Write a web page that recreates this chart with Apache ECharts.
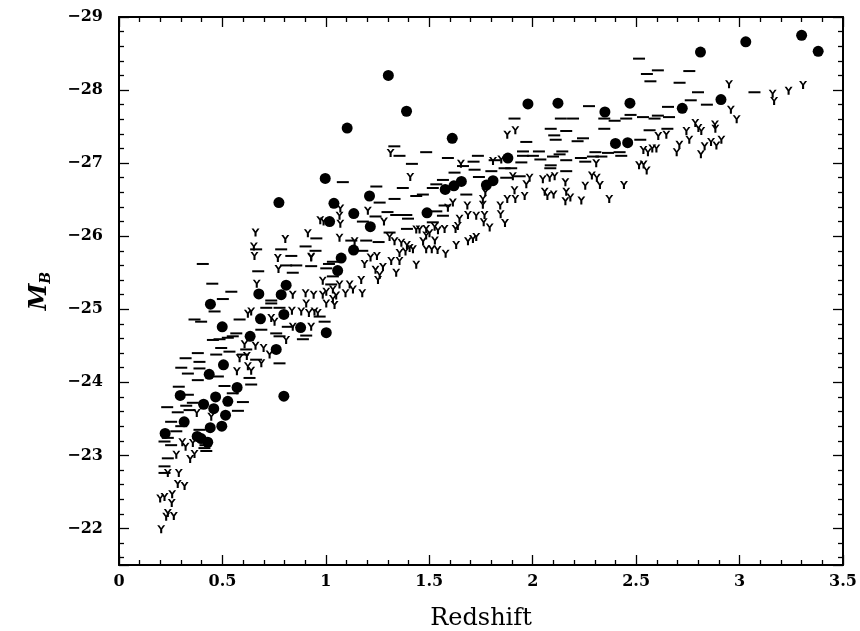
<!DOCTYPE html>
<html>
<head>
<meta charset="utf-8">
<script src="https://cdn.jsdelivr.net/npm/echarts@6/dist/echarts.min.js"></script>
<style>
  html, body { margin: 0; padding: 0; background: #fff; }
  #chart { width: 860px; height: 631px; }
</style>
</head>
<body>
<div id="chart"></div>
<script>
// [redshift, M_B]
const circles = [
  [0.223,-23.30],[0.296,-23.82],[0.315,-23.46],[0.378,-23.26],[0.397,-23.23],[0.409,-23.70],
  [0.429,-23.18],[0.436,-24.11],[0.441,-23.38],[0.442,-25.07],[0.458,-23.64],[0.467,-23.80],
  [0.497,-23.40],[0.499,-24.76],[0.505,-24.24],[0.515,-23.55],[0.526,-23.74],[0.571,-23.93],
  [0.634,-24.63],[0.676,-25.21],[0.684,-24.87],[0.760,-24.45],[0.773,-26.46],[0.784,-25.20],
  [0.797,-24.93],[0.797,-23.81],[0.808,-25.33],[0.878,-24.75],[0.997,-26.79],[1.002,-24.68],
  [1.018,-26.20],[1.039,-26.45],[1.057,-25.53],[1.074,-25.70],[1.103,-27.48],[1.134,-25.81],
  [1.135,-26.31],[1.211,-26.55],[1.215,-26.13],[1.302,-28.20],[1.390,-27.71],[1.489,-26.32],
  [1.577,-26.64],[1.611,-27.34],[1.619,-26.69],[1.655,-26.75],[1.776,-26.70],[1.808,-26.76],
  [1.880,-27.07],[1.977,-27.81],[2.122,-27.82],[2.349,-27.70],[2.400,-27.27],[2.459,-27.28],
  [2.470,-27.82],[2.723,-27.75],[2.811,-28.52],[2.910,-27.87],[3.030,-28.66],[3.300,-28.75],
  [3.380,-28.53]
];

const dashes = [
  [2.514,-28.43],[2.552,-28.22],[2.605,-28.27],[2.569,-28.12],[2.757,-28.26],[2.710,-28.10],
  [2.799,-27.97],[2.764,-27.86],[2.842,-27.80],[2.654,-27.77],[3.072,-27.97],[2.346,-27.61],
  [2.396,-27.58],[2.452,-27.61],[2.473,-27.66],[2.533,-27.63],[2.589,-27.61],[2.605,-27.65],
  [2.659,-27.63],[2.346,-27.47],[2.565,-27.45],[2.651,-27.47],[2.520,-27.32],[2.364,-27.14],
  [2.420,-27.15],[2.428,-27.10],[2.332,-27.09],
  [2.272,-27.78],[1.912,-27.61],[2.136,-27.61],[2.195,-27.61],[2.087,-27.47],[2.162,-27.44],
  [2.104,-27.38],[2.111,-27.32],[2.243,-27.34],[2.217,-27.30],[1.969,-27.29],[1.485,-27.15],
  [1.590,-27.07],[1.735,-27.10],[1.714,-27.02],[1.816,-27.04],[1.953,-27.16],[2.030,-27.16],
  [2.143,-27.16],[2.130,-27.12],[2.098,-27.09],[2.001,-27.10],[1.953,-27.10],[2.037,-27.05],
  [2.162,-27.04],[2.233,-27.07],[2.254,-27.02],[2.303,-27.15],[2.291,-27.09],
  [1.945,-27.01],[2.087,-26.97],[2.085,-26.93],[2.162,-26.89],[1.896,-26.93],[1.864,-26.93],
  [1.800,-26.89],[1.719,-26.91],[1.663,-26.96],[1.622,-26.87],[1.740,-26.81],[1.566,-26.77],
  [1.534,-26.71],[1.679,-26.57],[1.469,-26.57],[1.574,-26.42],[1.566,-26.28],[1.937,-26.82],
  [1.872,-26.80],[1.331,-27.23],[1.356,-27.10],[1.416,-26.99],
  [1.082,-26.74],[1.244,-26.68],[1.372,-26.66],[1.517,-26.66],[1.437,-26.55],[1.260,-26.46],
  [1.332,-26.51],[1.298,-26.33],[1.340,-26.29],[1.397,-26.24],[1.389,-26.29],[1.240,-26.27],
  [1.179,-26.20],[1.534,-26.34],[1.517,-26.19],[1.392,-26.10],[1.308,-26.05],[1.195,-25.94],
  [1.255,-25.92],[0.954,-25.97],[0.902,-25.86],[0.950,-25.80],[1.176,-25.80],[0.929,-25.59],
  [1.015,-25.62],[1.034,-25.65],[1.002,-25.56],[1.034,-25.45],[1.026,-25.34],[0.970,-24.90],
  [0.405,-25.62],[0.673,-25.52],[0.784,-25.82],[0.833,-25.73],[0.857,-25.60],[0.808,-25.60],
  [0.451,-25.35],[0.543,-25.24],[0.502,-25.14],[0.736,-25.12],[0.736,-25.08],[0.462,-24.97],
  [0.712,-25.02],[0.776,-25.02],[0.583,-24.86],[0.365,-24.86],[0.397,-24.83],[0.454,-24.58],
  [0.486,-24.59],[0.526,-24.61],[0.550,-24.63],[0.567,-24.67],[0.688,-24.72],[0.760,-24.67],
  [0.776,-24.63],[0.889,-24.59],[0.905,-24.64],[0.994,-24.83],[0.816,-24.76],[0.494,-24.47],
  [0.534,-24.42],[0.599,-24.38],[0.615,-24.45],[0.322,-24.33],[0.381,-24.40],[0.389,-24.28],
  [0.470,-24.38],[0.663,-24.31],[0.776,-24.26],[0.301,-24.20],[0.389,-24.19],[0.333,-24.12],
  [0.478,-24.08],[0.381,-24.03],[0.289,-23.94],[0.510,-23.95],[0.639,-23.97],[0.631,-24.06],
  [0.663,-25.82],[0.840,-25.50],[1.123,-25.94],
  [0.233,-23.66],[0.325,-23.68],[0.341,-23.62],[0.252,-23.46],[0.277,-23.33],[0.389,-23.35],
  [0.422,-23.06],[0.413,-23.10],[0.252,-23.14],[0.220,-23.19],[0.236,-22.96],[0.220,-22.85],
  [0.220,-22.76],[0.599,-23.73],[0.575,-23.61],[0.357,-23.72],[0.284,-23.59],[0.301,-23.40],
  [0.418,-23.14],[0.236,-23.24],[0.333,-23.83],[0.550,-23.85]
];

// upper limits (Y-shaped markers)
const limits = [
  [2.949,-28.08],[3.160,-27.95],[3.167,-27.85],[3.237,-27.99],[3.307,-28.07],[2.958,-27.73],
  [2.986,-27.60],[2.786,-27.55],[2.881,-27.53],[2.883,-27.47],[2.801,-27.48],[2.815,-27.44],
  [2.743,-27.44],[2.646,-27.39],[2.607,-27.37],[2.757,-27.32],[2.912,-27.32],[2.862,-27.29],
  [2.709,-27.25],[2.888,-27.24],[2.831,-27.23],[2.535,-27.18],[2.557,-27.15],[2.578,-27.20],
  [2.598,-27.20],[2.696,-27.15],[2.813,-27.12],[2.514,-26.97],[2.536,-26.98],[2.551,-26.90],
  [2.441,-26.70],[2.370,-26.51],[2.325,-26.70],
  [1.877,-27.39],[1.916,-27.45],[1.653,-26.99],[1.808,-27.03],[1.848,-27.05],[2.307,-27.00],
  [1.904,-26.82],[1.985,-26.80],[2.049,-26.78],[2.082,-26.80],[2.106,-26.82],[2.158,-26.74],
  [2.286,-26.83],[2.310,-26.80],[2.254,-26.69],[1.969,-26.71],[1.912,-26.63],[2.058,-26.61],
  [2.071,-26.55],[2.101,-26.57],[2.162,-26.61],[2.182,-26.53],[2.158,-26.48],[2.235,-26.49],
  [1.961,-26.55],[1.877,-26.51],[1.916,-26.51],[1.771,-26.60],[1.759,-26.51],[1.759,-26.43],
  [1.614,-26.46],[1.590,-26.39],[1.684,-26.42],[1.843,-26.42],[1.687,-26.29],[1.727,-26.28],
  [1.767,-26.29],[1.845,-26.30],[1.646,-26.24],[1.763,-26.19],[1.792,-26.12],[1.866,-26.18],
  [1.638,-26.14],[1.627,-26.10],[1.526,-26.13],[1.574,-26.10],[1.542,-26.08],[1.485,-26.10],
  [1.501,-26.04],[1.630,-25.88],[1.687,-25.93],[1.711,-25.96],[1.727,-25.99],[1.485,-26.01],
  [1.470,-25.93],[1.485,-25.82],[1.512,-25.82],[1.540,-25.81],[1.579,-25.76],
  [1.313,-27.14],[0.660,-26.05],[0.804,-25.96],[0.913,-26.04],[0.652,-25.86],
  [1.408,-26.81],[1.070,-26.38],[1.066,-26.28],[1.070,-26.17],[0.973,-26.22],[0.989,-26.20],
  [1.203,-26.35],[1.281,-26.20],[1.066,-25.98],[1.139,-25.93],[0.929,-25.71],[1.308,-25.99],
  [1.332,-25.93],[1.365,-25.91],[1.392,-25.88],[1.437,-26.09],[1.453,-26.09],[1.527,-25.94],
  [1.356,-25.77],[1.316,-25.66],[1.356,-25.66],[1.340,-25.50],[1.437,-25.61],[1.405,-25.84],
  [1.421,-25.82],[1.385,-25.79],[1.247,-25.73],[1.216,-25.71],[1.187,-25.62],[1.240,-25.54],
  [1.276,-25.58],[1.260,-25.47],[1.252,-25.40],[1.171,-25.40],[0.985,-25.39],[1.066,-25.34],
  [1.115,-25.34],[1.131,-25.27],[1.176,-25.22],[1.095,-25.22],[1.034,-25.27],[1.002,-25.24],
  [0.985,-25.20],[1.050,-25.19],[0.902,-25.22],[0.941,-25.20],[0.905,-25.08],[1.002,-25.08],
  [1.034,-25.14],[1.042,-25.06],[0.945,-24.97],[0.918,-24.95],[0.961,-24.95],[0.881,-24.97],
  [0.655,-25.73],[0.768,-25.70],[0.929,-25.72],[0.771,-25.55],[0.666,-25.35],[0.840,-25.20],
  [0.836,-24.98],[0.623,-24.94],[0.639,-24.97],[0.736,-24.88],[0.752,-24.83],[0.840,-24.76],
  [0.929,-24.76],[0.808,-24.58],[0.607,-24.52],[0.660,-24.50],[0.699,-24.47],[0.728,-24.38],
  [0.583,-24.33],[0.618,-24.36],[0.688,-24.26],[0.623,-24.22],[0.570,-24.15],[0.639,-24.16],
  [0.376,-23.58],[0.446,-23.53],[0.306,-23.18],[0.322,-23.12],[0.357,-23.17],[0.277,-23.01],
  [0.365,-23.02],[0.344,-22.95],[0.236,-22.76],[0.289,-22.76],[0.284,-22.61],[0.317,-22.58],
  [0.257,-22.47],[0.199,-22.41],[0.220,-22.43],[0.255,-22.35],[0.236,-22.21],[0.265,-22.17],
  [0.228,-22.16],[0.204,-21.99],[0.570,-23.89]
];

const xRange = [0, 3.5];
const yRange = [-29, -21.5];

const serif = 'DejaVu Serif';
// thick "Y" glyph for the upper limits
const ySymbol = 'path://M0,0 L2.6,0 L5,3.4 L7.4,0 L10,0 L6.3,5.1 L6.3,10 L3.7,10 L3.7,5.1 Z';

const tickStyle = { color: '#000', width: 1.3 };

function xAxisCfg(pos, labels) {
  return {
    type: 'value', position: pos, min: xRange[0], max: xRange[1], interval: 0.5,
    axisLine: { onZero: false, lineStyle: { color: '#000', width: 2 } },
    axisTick: { inside: true, length: 10, lineStyle: tickStyle },
    minorTick: { show: true, splitNumber: 5, length: 5, lineStyle: tickStyle },
    splitLine: { show: false },
    axisLabel: {
      show: labels, margin: 9, color: '#000', fontFamily: serif, fontWeight: 'bold', fontSize: 16,
      formatter: v => String(v)
    }
  };
}

function yAxisCfg(pos, labels) {
  return {
    type: 'value', position: pos, inverse: true, min: yRange[0], max: yRange[1], interval: 1,
    axisLine: { onZero: false, lineStyle: { color: '#000', width: 2 } },
    axisTick: { inside: true, length: 10, lineStyle: tickStyle },
    minorTick: { show: true, splitNumber: 5, length: 5, lineStyle: tickStyle },
    splitLine: { show: false },
    axisLabel: {
      show: labels, margin: 16, color: '#000', fontFamily: serif, fontWeight: 'bold', fontSize: 16,
      formatter: v => Number.isInteger(v) ? '\u2212' + Math.abs(v) : ''
    }
  };
}

const chart = echarts.init(document.getElementById('chart'));

const xMain = xAxisCfg('bottom', true);
xMain.name = 'Redshift';
xMain.nameLocation = 'middle';
xMain.nameGap = 42;
xMain.nameTextStyle = { color: '#000', fontFamily: serif, fontSize: 24 };

const yMain = yAxisCfg('left', true);
yMain.name = '{m|M}{b|B}';
yMain.nameLocation = 'middle';
yMain.nameRotate = 90;
yMain.nameGap = 66;
yMain.nameTextStyle = {
  rich: {
    m: { color: '#000', fontFamily: serif, fontStyle: 'italic', fontWeight: 'bold', fontSize: 24 },
    b: { color: '#000', fontFamily: serif, fontStyle: 'italic', fontWeight: 'bold', fontSize: 14, padding: [12, 0, 0, 0] }
  }
};

chart.setOption({
  backgroundColor: '#fff',
  animation: false,
  grid: { left: 119, right: 17, top: 17, bottom: 66, outerBoundsMode: 'none' },
  xAxis: [xMain, xAxisCfg('top', false)],
  yAxis: [yMain, yAxisCfg('right', false)],
  series: [
    {
      name: 'limits', type: 'scatter', data: limits,
      symbol: ySymbol, symbolSize: [8, 8],
      itemStyle: { color: '#000', opacity: 1 }
    },
    {
      name: 'dashes', type: 'scatter', data: dashes,
      symbol: 'rect', symbolSize: [12, 2],
      itemStyle: { color: '#000', opacity: 1 }
    },
    {
      name: 'detections', type: 'scatter', data: circles,
      symbol: 'circle', symbolSize: 11,
      itemStyle: { color: '#000', opacity: 1 }
    }
  ]
});
</script>
</body>
</html>
